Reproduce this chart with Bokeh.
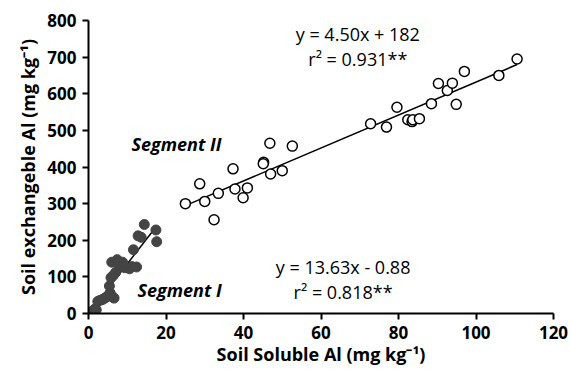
from bokeh.plotting import figure
from bokeh.models import Range1d, SingleIntervalTicker, Label
from bokeh.embed import file_html
from bokeh.resources import INLINE

# Segment I (filled)
seg1_x = [0.8, 1.2, 1.6, 2.0, 2.4, 3.0, 3.6, 4.2, 4.8, 5.2, 5.6, 6.2, 6.6, 5.4, 5.8,
          6.4, 7.0, 6.0, 7.4, 8.0, 8.8, 9.4, 10.6, 11.2, 12.4, 11.6, 12.8, 13.6, 14.4,
          17.4, 17.6]
seg1_y = [5, 8, 12, 10, 33, 36, 38, 42, 46, 50, 56, 45, 42, 75, 98,
          104, 112, 140, 147, 130, 140, 125, 122, 128, 127, 174, 212, 208, 243,
          228, 196]

# Segment II (open)
seg2_x = [25.0, 28.7, 30.0, 32.4, 33.5, 37.3, 37.8, 39.9, 41.0, 45.2, 45.1, 46.8, 47.0,
          50.0, 52.6, 72.8, 76.9, 79.6, 82.4, 83.5, 83.7, 85.4, 88.5, 90.3, 92.6, 93.9,
          94.9, 97.0, 105.9, 110.6]
seg2_y = [300, 354, 306, 256, 328, 395, 340, 316, 343, 413, 409, 465, 381,
          390, 457, 518, 509, 563, 529, 524, 529, 532, 573, 628, 609, 629,
          571, 661, 650, 695]

# Regression fits
fit1 = (13.63, -0.88)
fit2 = (4.50, 182.0)

x_ticks_step = 20
y_ticks_step = 100

FONT = "Open Sans"

p = figure(width=570, height=371, output_backend="svg", toolbar_location=None,
           x_range=Range1d(0, 120), y_range=Range1d(0, 800),
           min_border_left=88, min_border_right=17, min_border_top=20, min_border_bottom=58)
p.outline_line_color = None
p.xgrid.grid_line_color = None
p.ygrid.grid_line_color = None
p.background_fill_color = "white"
p.border_fill_color = "white"

p.xaxis.ticker = SingleIntervalTicker(interval=x_ticks_step)
p.yaxis.ticker = SingleIntervalTicker(interval=y_ticks_step)
for ax in (p.xaxis, p.yaxis):
    ax.axis_line_width = 2
    ax.axis_line_color = "black"
    ax.major_tick_line_width = 2
    ax.major_tick_line_color = "black"
    ax.major_tick_in = 0
    ax.major_tick_out = 6
    ax.minor_tick_line_color = None
    ax.major_label_text_font = FONT
    ax.major_label_text_font_style = "bold"
    ax.major_label_text_font_size = "17px"
    ax.major_label_text_color = "black"
    ax.axis_label_text_font = FONT
    ax.axis_label_text_font_style = "bold"
    ax.axis_label_text_font_size = "18px"
    ax.axis_label_text_color = "black"

p.xaxis.axis_label = "Soil Soluble Al (mg kg\u207b\u00b9)"
p.yaxis.axis_label = "Soil exchangeble Al (mg kg\u207b\u00b9)"
p.xaxis.major_label_standoff = 6
p.xaxis.axis_label_standoff = 0
p.yaxis.major_label_standoff = 6
p.yaxis.axis_label_standoff = 4

# regression lines over data range
x1a, x1b = min(seg1_x), max(seg1_x)
x2a, x2b = min(seg2_x), max(seg2_x)
p.line([x1a, x1b], [fit1[0] * x1a + fit1[1], fit1[0] * x1b + fit1[1]],
       line_color="black", line_width=1.5)
p.line([x2a, x2b], [fit2[0] * x2a + fit2[1], fit2[0] * x2b + fit2[1]],
       line_color="black", line_width=1.5)

p.scatter(seg1_x, seg1_y, size=10, fill_color="#444444", line_color="#444444")
p.scatter(seg2_x, seg2_y, size=10, fill_color="white", line_color="black", line_width=1.5)

def lab(x, y, t, style="normal", size="18px"):
    p.add_layout(Label(x=x, y=y, text=t, text_align="center", text_baseline="middle",
                       text_font=FONT, text_font_style=style, text_font_size=size,
                       text_color="black"))

lab(69.5, 764, "y = 4.50x + 182")
lab(69.5, 696, "r\u00b2 = 0.931**")
lab(65.7, 126, "y = 13.63x - 0.88")
lab(65.7, 58, "r\u00b2 = 0.818**")
lab(22.7, 463, "Segment II", style="bold italic", size="18px")
lab(23.5, 63, "Segment I", style="bold italic", size="18px")

open("out.html", "w").write(file_html(p, INLINE))
